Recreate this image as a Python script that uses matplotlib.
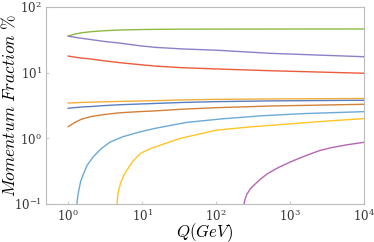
import numpy as np
import matplotlib
matplotlib.use("Agg")
import matplotlib.pyplot as plt

plt.rcParams['mathtext.fontset'] = 'cm'
plt.rcParams['font.family'] = 'serif'
plt.rcParams['font.serif'] = ['DejaVu Serif']

# momentum fractions (%)
Q = [1, 1.2, 1.5, 2, 3, 5, 9, 15, 35, 100, 550, 10000]
gluon = [36.0, 38.5, 40.5, 42.0, 43.5, 44.6, 45.3, 45.7, 46.0, 46.1, 46.2, 46.3]
u_val = [36.0, 34.8, 33.4, 32.0, 30.0, 28.2, 25.8, 24.3, 23.0, 22.0, 19.7, 17.5]
d_val = [17.9, 17.3, 16.7, 16.2, 15.2, 14.2, 13.3, 12.6, 11.9, 11.4, 10.7, 9.8]
sea_a = [3.45, 3.48, 3.52, 3.55, 3.60, 3.65, 3.70, 3.75, 3.85, 3.92, 3.98, 4.05]
sea_b = [2.87, 2.93, 3.0, 3.05, 3.15, 3.25, 3.33, 3.40, 3.52, 3.62, 3.72, 3.80]
sea_c = [1.51, 1.72, 1.95, 2.14, 2.30, 2.45, 2.55, 2.62, 2.78, 2.93, 3.11, 3.30]

Q_charm = [1.31, 1.33, 1.38, 1.47, 1.61, 1.8, 2.2, 2.8, 3.7, 5.5, 9.5, 15, 40,
           120, 400, 1500, 10000]
charm = [0.1, 0.12, 0.155, 0.22, 0.29, 0.39, 0.53, 0.70, 0.88, 1.06, 1.26, 1.42,
         1.75, 1.98, 2.2, 2.38, 2.55]

Q_bottom = [4.58, 4.65, 4.85, 5.2, 5.7, 6.25, 7.5, 9.5, 13, 17.7, 33, 100, 300,
            750, 2500, 10000]
bottom = [0.1, 0.13, 0.17, 0.22, 0.28, 0.33, 0.45, 0.59, 0.70, 0.79, 1.0, 1.33,
          1.5, 1.62, 1.8, 2.0]

Q_top = [239, 245, 260, 290, 327, 400, 497, 700, 1025, 1600, 2500, 3590, 6000, 10000]
top = [0.1, 0.115, 0.14, 0.17, 0.195, 0.24, 0.29, 0.36, 0.44, 0.54, 0.65, 0.72,
       0.80, 0.87]

fig = plt.figure(figsize=(3.74, 2.42), dpi=100)
ax = fig.add_axes([0.123, 0.157, 0.850, 0.814])

lw = 1.0
ax.plot(Q, gluon, color='#8EBA42', lw=lw)
ax.plot(Q, u_val, color='#8C7FC8', lw=lw)
ax.plot(Q, d_val, color='#EE5B3B', lw=lw)
ax.plot(Q, sea_a, color='#F2AE3D', lw=lw)
ax.plot(Q, sea_b, color='#5A7EC0', lw=lw)
ax.plot(Q, sea_c, color='#D2803A', lw=lw)
ax.plot(Q_charm, charm, color='#6AAAD6', lw=lw)
ax.plot(Q_bottom, bottom, color='#FFC425', lw=lw)
ax.plot(Q_top, top, color='#B565B5', lw=lw)

ax.set_xscale('log')
ax.set_yscale('log')
ax.set_xlim(0.5, 1e4)
ax.set_ylim(0.1, 100)
ax.minorticks_off()
ax.tick_params(direction='in', length=2, color='#cccccc', labelsize=8.5, pad=3,
               labelcolor='#333333')
for s in ax.spines.values():
    s.set_color('#bbbbbb')
    s.set_linewidth(0.8)

ax.set_xlabel(r'$Q(GeV)$', fontsize=12)
ax.xaxis.set_label_coords(0.5, -0.09)
ax.set_ylabel(r'$Momentum\ Fraction\ \%$', fontsize=12.5)
ax.yaxis.set_label_coords(-0.085, 0.5)

fig.savefig('out.png', dpi=100)
